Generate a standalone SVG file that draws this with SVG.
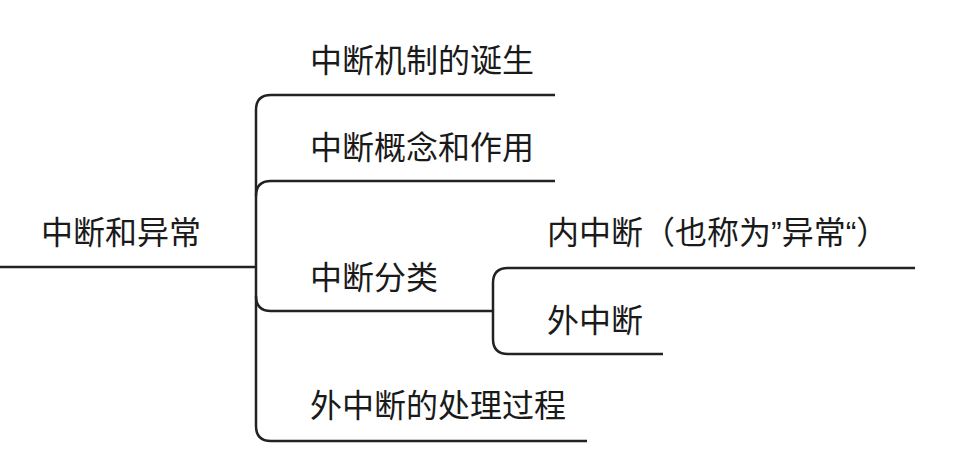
<svg xmlns="http://www.w3.org/2000/svg" width="970" height="472" viewBox="0 0 970 472">
<style>
.t{font-family:"Liberation Sans","Noto Sans CJK SC",sans-serif;font-size:32px;fill:#1a1a1a;}
.c{fill:none;stroke:#222;stroke-width:2.5;stroke-linecap:butt;}
</style>
<rect width="970" height="472" fill="#fff"/>
<g id="connectors">
<path class="c" d="M0,267 H256"/>
<path class="c" d="M555,95 H271 Q256,95 256,110 V426 Q256,441 271,441 H587"/>
<path class="c" d="M256,196 Q256,181 271,181 H555"/>
<path class="c" d="M256,296 Q256,311 271,311 H493"/>
<path class="c" d="M915,268 H508 Q493,268 493,283 V339 Q493,354 508,354 H663"/>
</g>
<g id="root"><text class="t" x="41" y="244">中断和异常</text></g>
<g id="n1"><text class="t" x="310" y="72">中断机制的诞生</text></g>
<g id="n2"><text class="t" x="310" y="159">中断概念和作用</text></g>
<g id="n3"><text class="t" x="310" y="289">中断分类</text></g>
<g id="n31"><text class="t" x="547" y="244">内中断（也称为”异常“）</text></g>
<g id="n32"><text class="t" x="547" y="332">外中断</text></g>
<g id="n4"><text class="t" x="310" y="417">外中断的处理过程</text></g>
</svg>
